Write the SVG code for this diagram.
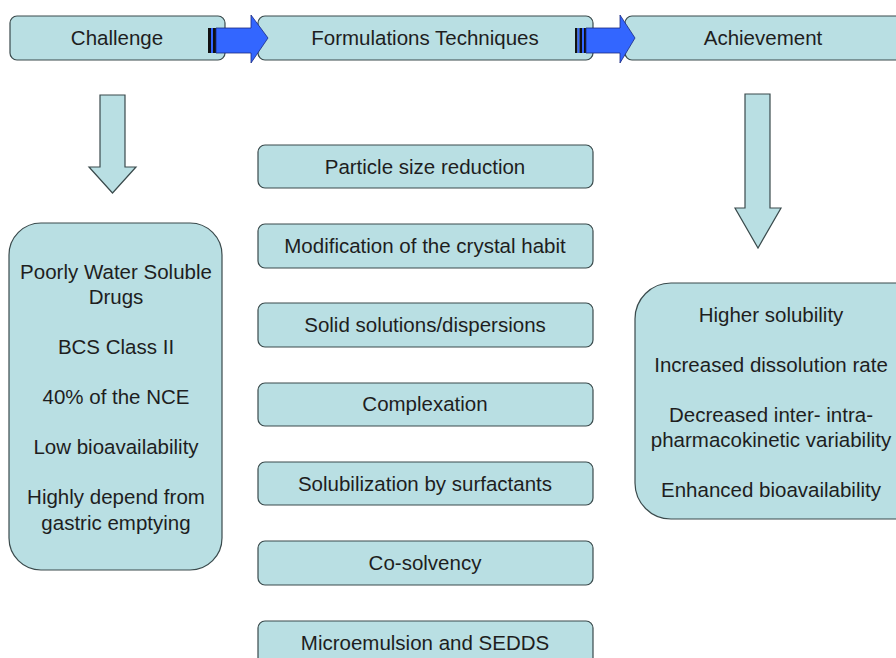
<svg xmlns="http://www.w3.org/2000/svg" width="896" height="658" viewBox="0 0 896 658">
<style>
.box{fill:#b9dfe3;stroke:#3a4a4c;stroke-width:1.2}
.t{font-family:"Liberation Sans",Arial,sans-serif;font-size:20.5px;fill:#1e1e1e;text-anchor:middle}
.blue{fill:#3366ff;stroke:#1a2a80;stroke-width:0.8}
.down{fill:#b9dfe3;stroke:#3a4a4c;stroke-width:1.2}
</style>
<rect width="896" height="658" fill="#ffffff"/>
<g id="challenge"><rect class="box" x="10" y="16" width="215" height="44" rx="7"/><text class="t" x="117" y="45">Challenge</text></g>
<g id="formulations"><rect class="box" x="258" y="16" width="335" height="44" rx="7"/><text class="t" x="425" y="45">Formulations Techniques</text></g>
<g id="achievement"><rect class="box" x="625" y="16" width="290" height="44" rx="7"/><text class="t" x="763" y="45">Achievement</text></g>
<g id="connectors">
<rect x="208" y="28" width="3" height="25" fill="#111"/><rect x="211" y="28" width="2" height="25" fill="#3366ff"/><rect x="213" y="28" width="3" height="25" fill="#111"/>
<path class="blue" d="M216 28 H251 V15 L268 38 L251 63 V53 H216 Z"/>
<rect x="575" y="28" width="2.5" height="25" fill="#111"/><rect x="577.5" y="28" width="2" height="25" fill="#3366ff"/><rect x="579.5" y="28" width="2.5" height="25" fill="#111"/><rect x="582" y="28" width="2" height="25" fill="#3366ff"/><rect x="584" y="28" width="2" height="25" fill="#111"/>
<path class="blue" d="M586 28 H620 V15 L635 38 L620 63 V53 H586 Z"/>
<path class="down" d="M100 95 H125 V167 H136 L112.5 193 L89 167 H100 Z"/>
<path class="down" d="M745 94 H770 V208 H781 L758 248 L735 208 H745 Z"/>
</g>
<g id="challenge-details"><rect class="box" x="9" y="223" width="213" height="347" rx="32"/>
<text class="t" x="116" y="279">Poorly Water Soluble</text>
<text class="t" x="116" y="304">Drugs</text>
<text class="t" x="116" y="354">BCS Class II</text>
<text class="t" x="116" y="404">40% of the NCE</text>
<text class="t" x="116" y="454">Low bioavailability</text>
<text class="t" x="116" y="504">Highly depend from</text>
<text class="t" x="116" y="530">gastric emptying</text>
</g>
<g id="t1"><rect class="box" x="258" y="145" width="335" height="43" rx="7"/><text class="t" x="425" y="174">Particle size reduction</text></g>
<g id="t2"><rect class="box" x="258" y="224" width="335" height="44" rx="7"/><text class="t" x="425" y="253">Modification of the crystal habit</text></g>
<g id="t3"><rect class="box" x="258" y="303" width="335" height="44" rx="7"/><text class="t" x="425" y="332">Solid solutions/dispersions</text></g>
<g id="t4"><rect class="box" x="258" y="383" width="335" height="43" rx="7"/><text class="t" x="425" y="411">Complexation</text></g>
<g id="t5"><rect class="box" x="258" y="462" width="335" height="43" rx="7"/><text class="t" x="425" y="491">Solubilization by surfactants</text></g>
<g id="t6"><rect class="box" x="258" y="541" width="335" height="44" rx="7"/><text class="t" x="425" y="570">Co-solvency</text></g>
<g id="t7"><rect class="box" x="258" y="621" width="335" height="44" rx="7"/><text class="t" x="425" y="650">Microemulsion and SEDDS</text></g>
<g id="achievement-details"><rect class="box" x="635" y="283" width="300" height="236" rx="36"/>
<text class="t" x="771" y="322">Higher solubility</text>
<text class="t" x="771" y="372">Increased dissolution rate</text>
<text class="t" x="771" y="422">Decreased inter- intra-</text>
<text class="t" x="771" y="447">pharmacokinetic variability</text>
<text class="t" x="771" y="497">Enhanced bioavailability</text>
</g>
</svg>
